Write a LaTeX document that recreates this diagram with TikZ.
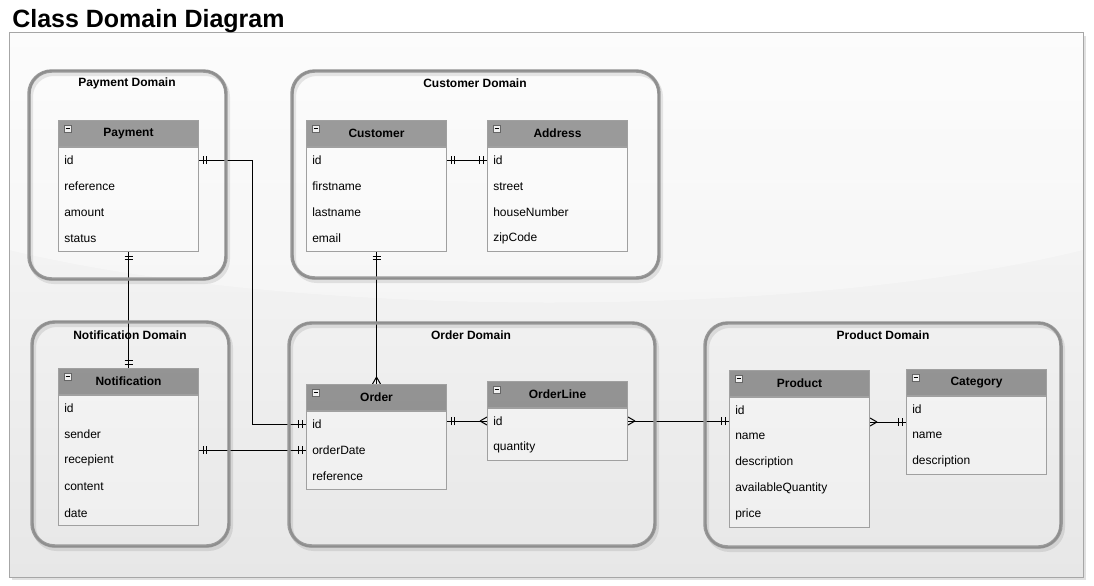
\documentclass[tikz,border=0pt]{standalone}
\usepackage{fontspec}
\setmainfont{Liberation Sans}
\usetikzlibrary{calc,decorations.markings}
\definecolor{dom}{HTML}{9A9A9A}
\definecolor{domdark}{HTML}{8E8E8E}
\definecolor{entline}{HTML}{A0A0A0}
\definecolor{bgtop}{HTML}{FBFBFB}
\definecolor{bgmid}{HTML}{F1F1F1}
\definecolor{bglow}{HTML}{E7E7E7}
\pgfdeclarelayer{bglayer}
\pgfdeclarelayer{connlayer}
\pgfdeclarelayer{domlayer}
\pgfsetlayers{bglayer,connlayer,domlayer,main}
\tikzset{
  conn/.style={draw=black, line width=0.75pt},
  ones/.style={postaction={decorate,decoration={markings,
      mark=at position 3pt with {\draw[line width=0.75pt] (0,-3pt)--(0,3pt);},
      mark=at position 5.5pt with {\draw[line width=0.75pt] (0,-3pt)--(0,3pt);}}}},
  onee/.style={postaction={decorate,decoration={markings,
      mark=at position -5.5pt with {\draw[line width=0.75pt] (0,-3pt)--(0,3pt);},
      mark=at position -3pt with {\draw[line width=0.75pt] (0,-3pt)--(0,3pt);}}}},
  manye/.style={postaction={decorate,decoration={markings,
      mark=at position 1 with {\draw[line width=0.75pt] (-5.25pt,0)--(0,3pt) (-5.25pt,0)--(0,-3pt);}}}},
  manys/.style={postaction={decorate,decoration={markings,
      mark=at position 0 with {\draw[line width=0.75pt] (5.25pt,0)--(0,3pt) (5.25pt,0)--(0,-3pt);}}}},
  hdr/.style={draw=entline, line width=0.75pt, fill=black, fill opacity=0.38, text opacity=1,
      minimum width=105pt, minimum height=19.5pt, inner sep=0pt,
      font=\bfseries\fontsize{9}{10}\selectfont, anchor=north west},
  entbody/.style={draw=entline, line width=0.75pt, fill=white, fill opacity=0.3,
      minimum width=105pt, inner sep=0pt, anchor=north},
  row/.style={font=\fontsize{9}{10}\selectfont, anchor=west, inner sep=0pt},
  dombox/.style={draw=dom, line width=2.6pt, rounded corners=17pt},
  domboxb/.style={draw=domdark, line width=1.2pt, rounded corners=17pt},
  domshadow/.style={draw=black, draw opacity=0.09, line width=3pt, rounded corners=17pt},
  domtitle/.style={font=\bfseries\fontsize{9}{10}\selectfont, inner sep=0pt},
  icon/.style={draw=gray!80!black, fill=gray!12, line width=0.5pt},
}
% #1 name, #2 left, #3 top, #4 title, #5 number of rows, #6 rows
\newcommand\erent[6]{%
  \node[hdr] (#1) at (#2,#3) {#4};
  \node[entbody, minimum height={#5*19.5pt}] (#1b) at (#1.south) {};
  \draw[icon] ($(#1.north west)+(6,5)$) rectangle +(7,7);
  \draw[line width=0.9pt] ($(#1.north west)+(7.5,8.5)$) -- +(4,0);
  \foreach \r [count=\i] in {#6} {
    \node[row] (#1-\i) at ({#2+6},{#3+13.8+26.2*\i}) {\r};
  }
}
\begin{document}
\begin{tikzpicture}[x=0.75pt,y=-0.75pt]
\useasboundingbox (0,0) rectangle (1094,585);
% title
\node[anchor=base west, inner sep=0pt, font=\bfseries\fontsize{18.75}{20}\selectfont] (title) at (12,28) {Class Domain Diagram};
% panel
\begin{pgfonlayer}{bglayer}
\fill[black, opacity=0.12] (12,36) rectangle (1086,580);
\shade[top color=bgtop, bottom color=bglow, middle color=bgmid] (9,33) rectangle (1083,577);
\fill[white, opacity=0.35] (9,33) -- (1083,33) -- (1083,250) .. controls (800,320) and (300,320) .. (9,250) -- cycle;
\draw[draw=gray!70, line width=0.75pt] (9,33) rectangle (1083,577);
\end{pgfonlayer}

% entities
\erent{pay}{58}{120}{Payment}{4}{id,reference,amount,status}
\erent{cus}{306}{120}{Customer}{4}{id,firstname,lastname,email}
\erent{adr}{487}{120}{Address}{4}{id,street,houseNumber,zipCode}
\erent{nt}{58}{368}{Notification}{5}{id,sender,recepient,content,date}
\erent{ord}{306}{384}{Order}{3}{id,orderDate,reference}
\erent{ol}{487}{381}{OrderLine}{2}{id,quantity}
\erent{pr}{729}{370}{Product}{5}{id,name,description,availableQuantity,price}
\erent{cat}{906}{369}{Category}{3}{id,name,description}

% connectors
\begin{pgfonlayer}{connlayer}
\coordinate (pbx) at (252,0);
\coordinate (pcy) at (0,422);
\draw[conn,ones,onee] (pay-1 -| payb.east) -- (pay-1 -| pbx) |- (ord-1 -| ordb.west);
\draw[conn,ones,onee] (payb.south) -- (nt.north);
\draw[conn,ones,onee] (ord-2 -| ntb.east) -- (ord-2 -| ordb.west);
\draw[conn,ones,manye] (cusb.south) -- (ord.north);
\draw[conn,ones,onee] (cus-1 -| cusb.east) -- (adr-1 -| adrb.west);
\draw[conn,ones,manye] (ol-1 -| ordb.east) -- (ol-1 -| olb.west);
\draw[conn,manys,onee] (ol-1 -| olb.east) -- (ol-1 -| prb.west);
\draw[conn,manys,onee] (pcy -| prb.east) -- (pcy -| catb.west);
\end{pgfonlayer}

% domains
\begin{pgfonlayer}{domlayer}
\foreach \a/\b/\c/\d in {29/71/226/279, 292/71/659/278, 32/322/229/546, 289/323/655/546, 705/323/1061/547} {
  \draw[domshadow] (\a+2,\b+3) rectangle (\c+2,\d+3);
  \draw[dombox] (\a,\b) rectangle (\c,\d);
  \draw[domboxb] (\a+0.6,\b-0.4) rectangle (\c-0.4,\d+0.6);
}
\end{pgfonlayer}
\node[domtitle] (tpay) at (127,83) {Payment Domain};
\node[domtitle] (tcus) at (475,83) {Customer Domain};
\node[domtitle] (tnt) at (130,335) {Notification Domain};
\node[domtitle] (tord) at (471,335) {Order Domain};
\node[domtitle] (tpr) at (883,335) {Product Domain};
\end{tikzpicture}
\end{document}
